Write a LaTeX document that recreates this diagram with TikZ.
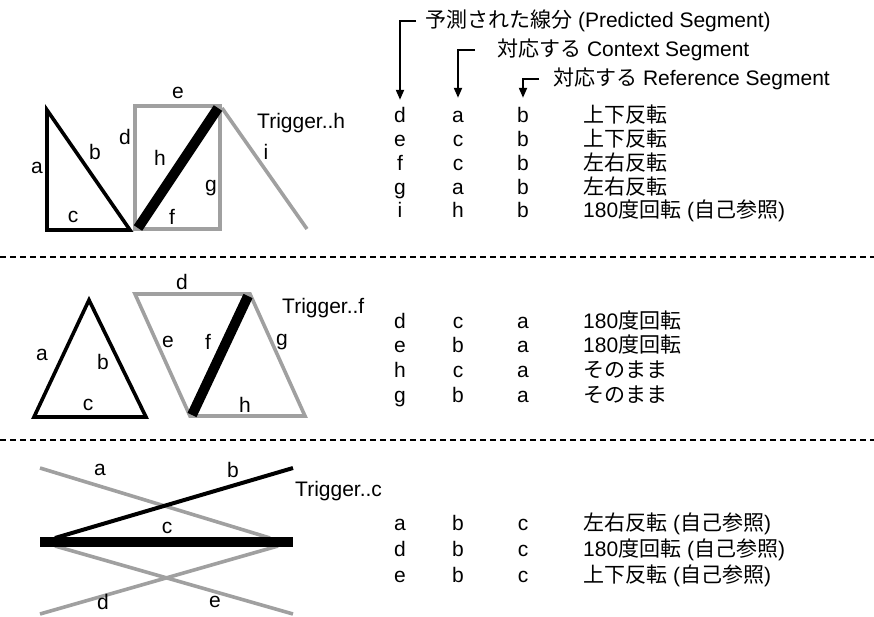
\documentclass[tikz,border=0pt]{standalone}
\usepackage{fontspec}
\setmainfont{Liberation Sans}
\newfontfamily\jpfont{Noto Sans CJK JP}
\usetikzlibrary{arrows.meta,calc}
\definecolor{cInk}{HTML}{000000}
\definecolor{cGrey}{HTML}{A0A0A0}
\newcommand{\jp}[1]{{\jpfont #1}}

\begin{document}
\begin{tikzpicture}[x=1pt, y=-1pt,
  font=\fontsize{21}{25}\selectfont,
  >={Triangle[length=10pt,width=8pt]},
  seg/.style={draw=cInk, line width=3.6pt, line join=miter},
  gseg/.style={draw=cGrey, line width=3.6pt, line join=miter},
  trig/.style={draw=cInk, line width=10pt},
  lbl/.style={inner sep=0pt},
  cell/.style={anchor=base, inner sep=2pt, text height=15pt, text depth=4pt},
  note/.style={anchor=base west, inner sep=0pt},
  hdr/.style={anchor=west, inner sep=0pt},
  brk/.style={->, draw=cInk, line width=2pt},
  sep/.style={draw=cInk, line width=1.5pt, dash pattern=on 6pt off 4pt}]

\useasboundingbox (0,0) rectangle (874,616);

% ---------- header ----------
\node[hdr] (hPred) at (425,21) {\jp{予測された線分} (Predicted Segment)};
\node[hdr] (hCtx)  at (497,50) {\jp{対応する} Context Segment};
\node[hdr] (hRef)  at (553,79) {\jp{対応する} Reference Segment};
\coordinate (kPred) at (416,21);
\coordinate (kCtx)  at (475,50);
\coordinate (kRef)  at (539,79);

% ---------- panel 1 ----------
\draw[seg] (47,110) -- (47,230) -- (130,230) -- cycle;
\draw[gseg] (135,106) rectangle (220,229);
\draw[gseg] (222,108) -- (307,229);
\draw[trig] (138,228) -- (218,108);
\node[lbl] (l1a) at (37,168) {a};
\node[lbl] (l1b) at (95,152) {b};
\node[lbl] (l1c) at (73,217) {c};
\node[lbl] (l1d) at (125,137) {d};
\node[lbl] (l1e) at (178,93) {e};
\node[lbl] (l1h) at (160,158) {h};
\node[lbl] (l1g) at (211,188) {g};
\node[lbl] (l1f) at (172,217) {f};
\node[lbl] (l1i) at (266,152) {i};
\node[hdr] (t1) at (257,123) {Trigger..h};

\foreach \yb/\p/\c/\r/\t [count=\i] in {
  122/d/a/b/{\jp{上下反転}},
  146/e/c/b/{\jp{上下反転}},
  170/f/c/b/{\jp{左右反転}},
  194/g/a/b/{\jp{左右反転}},
  217/i/h/b/{180\jp{度回転} (\jp{自己参照})}}{
  \node[cell] (r1-\i-p) at (400,\yb) {\p};
  \node[cell] (r1-\i-c) at (458,\yb) {\c};
  \node[cell] (r1-\i-r) at (523,\yb) {\r};
  \node[note] (r1-\i-t) at (583,\yb) {\t};
}

\draw[sep] (0,257) -- (874,257);

% ---------- panel 2 ----------
\draw[seg] (89,300) -- (146,417) -- (34,417) -- cycle;
\draw[gseg] (135,294) -- (250,294) -- (305,416) -- (190,416) -- cycle;
\draw[trig] (192,415) -- (248,296);
\node[lbl] (l2a) at (42,355) {a};
\node[lbl] (l2b) at (103,362) {b};
\node[lbl] (l2c) at (88,405) {c};
\node[lbl] (l2d) at (182,282) {d};
\node[lbl] (l2e) at (168,342) {e};
\node[lbl] (l2f) at (208,342) {f};
\node[lbl] (l2g) at (282,342) {g};
\node[lbl] (l2h) at (245,405) {h};
\node[hdr] (t2) at (282,308) {Trigger..f};

\foreach \yb/\p/\c/\r/\t [count=\i] in {
  328/d/c/a/{180\jp{度回転}},
  352/e/b/a/{180\jp{度回転}},
  377/h/c/a/{\jp{そのまま}},
  402/g/b/a/{\jp{そのまま}}}{
  \node[cell] (r2-\i-p) at (400,\yb) {\p};
  \node[cell] (r2-\i-c) at (458,\yb) {\c};
  \node[cell] (r2-\i-r) at (523,\yb) {\r};
  \node[note] (r2-\i-t) at (583,\yb) {\t};
}

\draw[sep] (0,440) -- (874,440);

% ---------- panel 3 ----------
\draw[gseg] (40,468) -- (270,538);
\draw[gseg] (40,614) -- (278,546);
\draw[gseg] (55,546) -- (293,614);
\draw[seg, line width=4pt] (55,538) -- (293,468);
\draw[trig, line width=10.5pt] (40,542) -- (293,542);
\node[lbl] (l3a) at (100,470) {a};
\node[lbl] (l3b) at (233,470) {b};
\node[lbl] (l3c) at (167,528) {c};
\node[lbl] (l3d) at (103,602) {d};
\node[lbl] (l3e) at (215,602) {e};
\node[hdr] (t3) at (295,491) {Trigger..c};

\foreach \yb/\p/\c/\r/\t [count=\i] in {
  530/a/b/c/{\jp{左右反転} (\jp{自己参照})},
  556/d/b/c/{180\jp{度回転} (\jp{自己参照})},
  582/e/b/c/{\jp{上下反転} (\jp{自己参照})}}{
  \node[cell] (r3-\i-p) at (400,\yb) {\p};
  \node[cell] (r3-\i-c) at (458,\yb) {\c};
  \node[cell] (r3-\i-r) at (523,\yb) {\r};
  \node[note] (r3-\i-t) at (583,\yb) {\t};
}

% ---------- column pointers ----------
\draw[brk] (kPred) -| ([yshift=5pt]r1-1-p.north);
\draw[brk] (kCtx)  -| ([yshift=7pt]r1-1-c.north);
\draw[brk] (kRef)  -| ([yshift=7pt]r1-1-r.north);
\end{tikzpicture}
\end{document}
